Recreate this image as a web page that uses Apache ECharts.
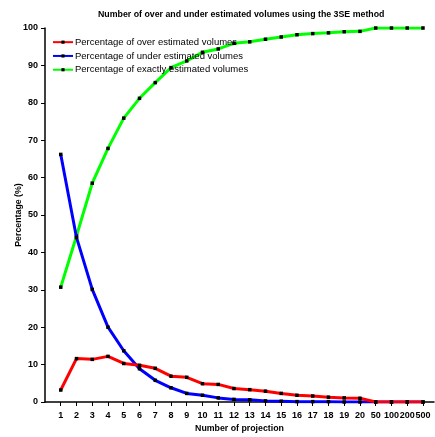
<!DOCTYPE html>
<html>
<head>
<meta charset="utf-8">
<script src="https://cdn.jsdelivr.net/npm/echarts@6/dist/echarts.min.js"></script>
<style>
html,body{margin:0;padding:0;background:#fff;}
#c{width:435px;height:437px;}
</style>
</head>
<body>
<div id="c"></div>
<script>
var categories = ['1','2','3','4','5','6','7','8','9','10','11','12','13','14','15','16','17','18','19','20','50','100','200','500'];
var overEstimated = [3.2,11.6,11.4,12.2,10.3,9.8,9.0,6.9,6.6,4.9,4.7,3.6,3.3,2.9,2.3,1.8,1.6,1.3,1.1,1.0,0,0,0,0];
var underEstimated = [66.2,44.0,30.1,20.0,13.7,8.9,5.8,3.8,2.3,1.8,1.1,0.7,0.6,0.3,0.2,0.1,0.1,0.1,0,0,0,0,0,0];
var exactlyEstimated = [30.7,44.4,58.5,67.8,75.9,81.2,85.4,89.4,91.2,93.5,94.4,95.9,96.3,97.0,97.6,98.2,98.5,98.7,99.0,99.1,100,100,100,100];
var yTicks = [0,10,20,30,40,50,60,70,80,90,100];
var seriesNames = ['Percentage of over estimated volumes','Percentage of under estimated volumes','Percentage of exactly estimated volumes'];
var seriesColors = ['#ff0000','#0000ff','#00ff00'];

var FONT = '"Liberation Sans",Arial,sans-serif';
var positions = categories.map(function(c,i){return i+1;});
function toPairs(arr){return arr.map(function(v,i){return [i+1,v];});}

var chart = echarts.init(document.getElementById('c'), null, {renderer:'canvas'});
var dataSets = [overEstimated, underEstimated, exactlyEstimated];
var series = dataSets.map(function(d,k){
  return {
    name: seriesNames[k],
    type: 'line',
    data: toPairs(d),
    symbol: 'rect',
    symbolSize: 3.5,
    itemStyle: {color:'#000'},
    lineStyle: {color: seriesColors[k], width: 3},
    z: 2 + (k===0?2:(k===1?1:0))
  };
});
chart.setOption({
  animation:false,
  backgroundColor:'#fff',
  title:{
    text:'Number of over and under estimated volumes using the 3SE method',
    left:93, top:5, padding:5,
    textStyle:{fontFamily:FONT,fontSize:8.8,fontWeight:'bold',color:'#000'}
  },
  legend:{
    orient:'vertical', left:52, top:36.5, padding:0,
    itemWidth:20, itemHeight:4, itemGap:2.5,
    textStyle:{fontFamily:FONT,fontSize:9.5,color:'#000',padding:[0,0,0,-3],lineHeight:11.3},
    data: seriesNames
  },
  grid:{left:45,right:1,top:28,bottom:35,outerBoundsMode:'none',containLabel:false},
  xAxis:{
    type:'value', min:0, max:24.7, interval:1,
    name:'Number of projection', nameLocation:'middle', nameGap:22, nameMoveOverlap:false,
    nameTextStyle:{fontFamily:FONT,fontSize:8.8,fontWeight:'bold',color:'#000'},
    axisLine:{lineStyle:{color:'#000',width:1.5}},
    axisTick:{customValues:positions,length:4,lineStyle:{color:'#000',width:1}},
    splitLine:{show:false},
    axisLabel:{customValues:positions,margin:9,fontFamily:FONT,fontSize:9,fontWeight:'bold',color:'#000',
      formatter:function(v){var i=Math.round(v)-1;return categories[i]!==undefined?categories[i]:'';}}
  },
  yAxis:{
    type:'value', min:0, max:100, interval:10,
    name:'Percentage (%)', nameLocation:'middle', nameGap:22, nameMoveOverlap:false,
    nameTextStyle:{fontFamily:FONT,fontSize:8.8,fontWeight:'bold',color:'#000'},
    axisLine:{show:true,lineStyle:{color:'#000',width:1.5}},
    axisTick:{show:true,length:4,lineStyle:{color:'#000'}},
    splitLine:{show:false},
    axisLabel:{customValues:yTicks,margin:7,fontFamily:FONT,fontSize:9,fontWeight:'bold',color:'#000'}
  },
  series: series
});
</script>
</body>
</html>
